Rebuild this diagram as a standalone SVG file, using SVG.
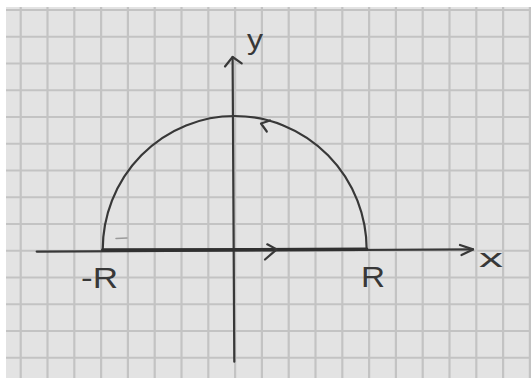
<svg xmlns="http://www.w3.org/2000/svg" width="531" height="383" viewBox="0 0 531 383">
  <defs>
    <style>
      .grid line { stroke: #c3c3c3; stroke-width: 2.2; }
      .pen { fill: none; stroke: #383838; stroke-width: 2.2; stroke-linecap: round; stroke-linejoin: round; }
      .thick { stroke-width: 3.4; stroke: #303030; }
      .label { font-family: "Liberation Sans", "DejaVu Sans", sans-serif; fill: #383838; }
    </style>
  </defs>
  <rect x="0" y="0" width="531" height="383" fill="#ffffff"/>
  <rect id="paper" x="6" y="7" width="525" height="371" fill="#e3e3e3"/>
  <g id="grid" class="grid">
    <line x1="20.7" y1="7" x2="20.7" y2="378"/>
    <line x1="47.5" y1="7" x2="47.5" y2="378"/>
    <line x1="74.3" y1="7" x2="74.3" y2="378"/>
    <line x1="101.1" y1="7" x2="101.1" y2="378"/>
    <line x1="127.9" y1="7" x2="127.9" y2="378"/>
    <line x1="154.7" y1="7" x2="154.7" y2="378"/>
    <line x1="181.5" y1="7" x2="181.5" y2="378"/>
    <line x1="208.3" y1="7" x2="208.3" y2="378"/>
    <line x1="235.1" y1="7" x2="235.1" y2="378"/>
    <line x1="261.9" y1="7" x2="261.9" y2="378"/>
    <line x1="288.7" y1="7" x2="288.7" y2="378"/>
    <line x1="315.5" y1="7" x2="315.5" y2="378"/>
    <line x1="342.3" y1="7" x2="342.3" y2="378"/>
    <line x1="369.1" y1="7" x2="369.1" y2="378"/>
    <line x1="395.9" y1="7" x2="395.9" y2="378"/>
    <line x1="422.7" y1="7" x2="422.7" y2="378"/>
    <line x1="449.5" y1="7" x2="449.5" y2="378"/>
    <line x1="476.3" y1="7" x2="476.3" y2="378"/>
    <line x1="503.1" y1="7" x2="503.1" y2="378"/>
    <line x1="529.9" y1="7" x2="529.9" y2="378"/>
    <line x1="6" y1="10" x2="531" y2="10"/>
    <line x1="6" y1="36.75" x2="531" y2="36.75"/>
    <line x1="6" y1="63.5" x2="531" y2="63.5"/>
    <line x1="6" y1="90.25" x2="531" y2="90.25"/>
    <line x1="6" y1="117" x2="531" y2="117"/>
    <line x1="6" y1="143.75" x2="531" y2="143.75"/>
    <line x1="6" y1="170.5" x2="531" y2="170.5"/>
    <line x1="6" y1="197.25" x2="531" y2="197.25"/>
    <line x1="6" y1="224" x2="531" y2="224"/>
    <line x1="6" y1="250.75" x2="531" y2="250.75"/>
    <line x1="6" y1="277.5" x2="531" y2="277.5"/>
    <line x1="6" y1="304.25" x2="531" y2="304.25"/>
    <line x1="6" y1="331" x2="531" y2="331"/>
    <line x1="6" y1="357.75" x2="531" y2="357.75"/>
  </g>
  <g id="axes">
    <g id="x-axis">
      <path class="pen" d="M36.7,251.6 L473,249.4"/>
      <polyline class="pen" points="460,245 473,249.4 461.5,255"/>
      <text class="label" x="479" y="267" font-size="26" textLength="24" lengthAdjust="spacingAndGlyphs">x</text>
    </g>
    <g id="y-axis">
      <path class="pen" d="M232.6,57 L234.3,361.7"/>
      <polyline class="pen" points="225,66.5 232.6,57 241.7,63.3"/>
      <text class="label" x="247" y="49" font-size="28" textLength="16" lengthAdjust="spacingAndGlyphs">y</text>
    </g>
  </g>
  <g id="contour">
    <path class="pen" d="M102.7,250 A132,134 0 0 1 366.7,250"/>
    <path class="pen thick" d="M102.7,250 L366.7,249.3"/>
    <polyline class="pen" points="267.3,244.3 276.7,249.4 265,259.5"/>
    <polyline class="pen" points="270,120.5 261,123.5 266.8,131.5"/>
    <path d="M116,238.5 L127,238" fill="none" stroke="#9a9a9a" stroke-width="1.5" stroke-linecap="round"/>
  </g>
  <g id="labels">
    <text id="label-minus-R" class="label" x="81" y="288" font-size="30" textLength="37" lengthAdjust="spacingAndGlyphs">-R</text>
    <text id="label-R" class="label" x="361" y="287" font-size="30" textLength="24" lengthAdjust="spacingAndGlyphs">R</text>
  </g>
</svg>
